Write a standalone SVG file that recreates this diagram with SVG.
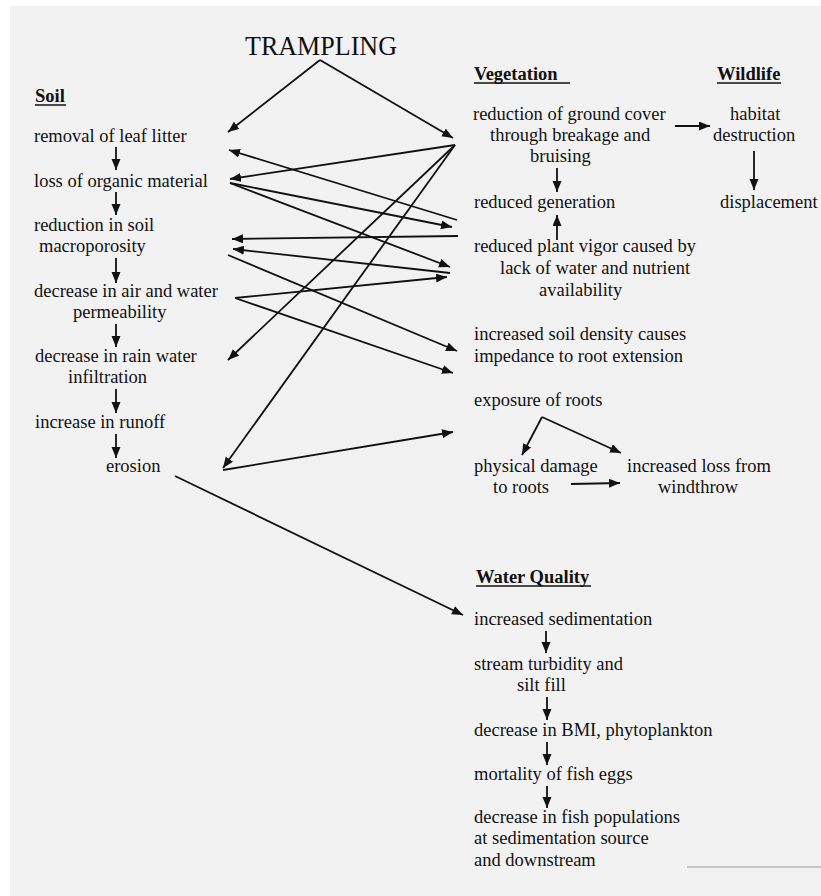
<svg xmlns="http://www.w3.org/2000/svg" width="821" height="896" viewBox="0 0 821 896">
<defs>
<marker id="ah" markerUnits="userSpaceOnUse" markerWidth="12" markerHeight="10" refX="11" refY="4.5" orient="auto">
<path d="M0,0 L11,4.5 L0,9 z" fill="#111"/>
</marker>
<style>
text{font-family:"Liberation Serif","Times New Roman",serif;font-size:18.5px;fill:#111}
.h{font-weight:bold}
.t{font-size:28px}
.c line,.c path{stroke:#111;stroke-width:1.8;fill:none;marker-end:url(#ah)}
.u{stroke:#111;stroke-width:1.5}
</style>
</defs>
<rect width="821" height="896" fill="#fff"/>
<rect x="10" y="6" width="811" height="890" fill="#f2f2f2"/>

<g id="trampling"><text class="t" x="245" y="55" textLength="152" lengthAdjust="spacingAndGlyphs">TRAMPLING</text></g>

<g id="soil-header"><text class="h" x="35" y="102">Soil</text><line class="u" x1="35" y1="105" x2="66" y2="105"/></g>
<g id="veg-header"><text class="h" x="474" y="80">Vegetation</text><line class="u" x1="474" y1="83" x2="570" y2="83"/></g>
<g id="wildlife-header"><text class="h" x="717" y="80">Wildlife</text><line class="u" x1="717" y1="83" x2="781" y2="83"/></g>
<g id="water-header"><text class="h" x="476" y="583">Water Quality</text><line class="u" x1="476" y1="586" x2="591" y2="586"/></g>

<g id="s1"><text x="34" y="142">removal of leaf litter</text></g>
<g id="s2"><text x="34" y="187">loss of organic material</text></g>
<g id="s3"><text x="34" y="231">reduction in soil</text><text x="39" y="252">macroporosity</text></g>
<g id="s4"><text x="34" y="297">decrease in air and water</text><text x="73" y="318">permeability</text></g>
<g id="s5"><text x="35" y="362">decrease in rain water</text><text x="68" y="383">infiltration</text></g>
<g id="s6"><text x="35" y="428">increase in runoff</text></g>
<g id="s7"><text x="106" y="472">erosion</text></g>

<g id="v1"><text x="473" y="120">reduction of ground cover</text><text x="490" y="141">through breakage and</text><text x="530" y="162">bruising</text></g>
<g id="v2"><text x="474" y="208">reduced generation</text></g>
<g id="v3"><text x="474" y="252">reduced plant vigor caused by</text><text x="500" y="274">lack of water and nutrient</text><text x="539" y="296">availability</text></g>
<g id="v4"><text x="474" y="340">increased soil density causes</text><text x="474" y="362">impedance to root extension</text></g>
<g id="v5"><text x="474" y="406">exposure of roots</text></g>
<g id="v6"><text x="474" y="472">physical damage</text><text x="493" y="493">to roots</text></g>
<g id="v7"><text x="627" y="472">increased loss from</text><text x="658" y="493">windthrow</text></g>

<g id="w1"><text x="730" y="120">habitat</text><text x="713" y="141">destruction</text></g>
<g id="w2"><text x="720" y="208">displacement</text></g>

<g id="q1"><text x="474" y="625">increased sedimentation</text></g>
<g id="q2"><text x="474" y="670">stream turbidity and</text><text x="517" y="691">silt fill</text></g>
<g id="q3"><text x="474" y="736">decrease in BMI, phytoplankton</text></g>
<g id="q4"><text x="474" y="780">mortality of fish eggs</text></g>
<g id="q5"><text x="474" y="823">decrease in fish populations</text><text x="474" y="844">at sedimentation source</text><text x="474" y="866">and downstream</text></g>

<g id="connectors" class="c">
<line x1="320" y1="60" x2="228" y2="132"/>
<line x1="320" y1="60" x2="453" y2="138"/>
<line x1="116" y1="147" x2="116" y2="170"/>
<line x1="116" y1="192" x2="116" y2="215"/>
<line x1="116" y1="258" x2="116" y2="283"/>
<line x1="116" y1="324" x2="116" y2="347"/>
<line x1="116" y1="389" x2="116" y2="413"/>
<line x1="116" y1="434" x2="116" y2="458"/>
<line x1="455" y1="145" x2="230" y2="179"/>
<line x1="457" y1="220" x2="229" y2="150"/>
<line x1="230" y1="183" x2="452" y2="227"/>
<line x1="230" y1="183" x2="450" y2="267"/>
<line x1="458" y1="236" x2="232" y2="239"/>
<line x1="450" y1="273" x2="233" y2="249"/>
<line x1="228" y1="255" x2="457" y2="351"/>
<line x1="455" y1="145" x2="228" y2="360"/>
<line x1="455" y1="145" x2="223" y2="468"/>
<line x1="235" y1="298" x2="447" y2="277"/>
<line x1="235" y1="298" x2="453" y2="373"/>
<line x1="223" y1="470" x2="453" y2="432"/>
<line x1="175" y1="476" x2="463" y2="615"/>
<line x1="675" y1="126" x2="710" y2="126"/>
<line x1="754" y1="151" x2="754" y2="190"/>
<line x1="557" y1="168" x2="557" y2="192"/>
<line x1="557" y1="240" x2="557" y2="215"/>
<line x1="542" y1="417" x2="522" y2="455"/>
<line x1="542" y1="417" x2="621" y2="453"/>
<line x1="571" y1="484" x2="620" y2="483"/>
<line x1="546" y1="631" x2="546" y2="653"/>
<line x1="547" y1="697" x2="547" y2="720"/>
<line x1="547" y1="742" x2="547" y2="765"/>
<line x1="547" y1="786" x2="547" y2="808"/>
</g>
<line x1="687" y1="867" x2="821" y2="867" stroke="#999" stroke-width="1"/>
</svg>
